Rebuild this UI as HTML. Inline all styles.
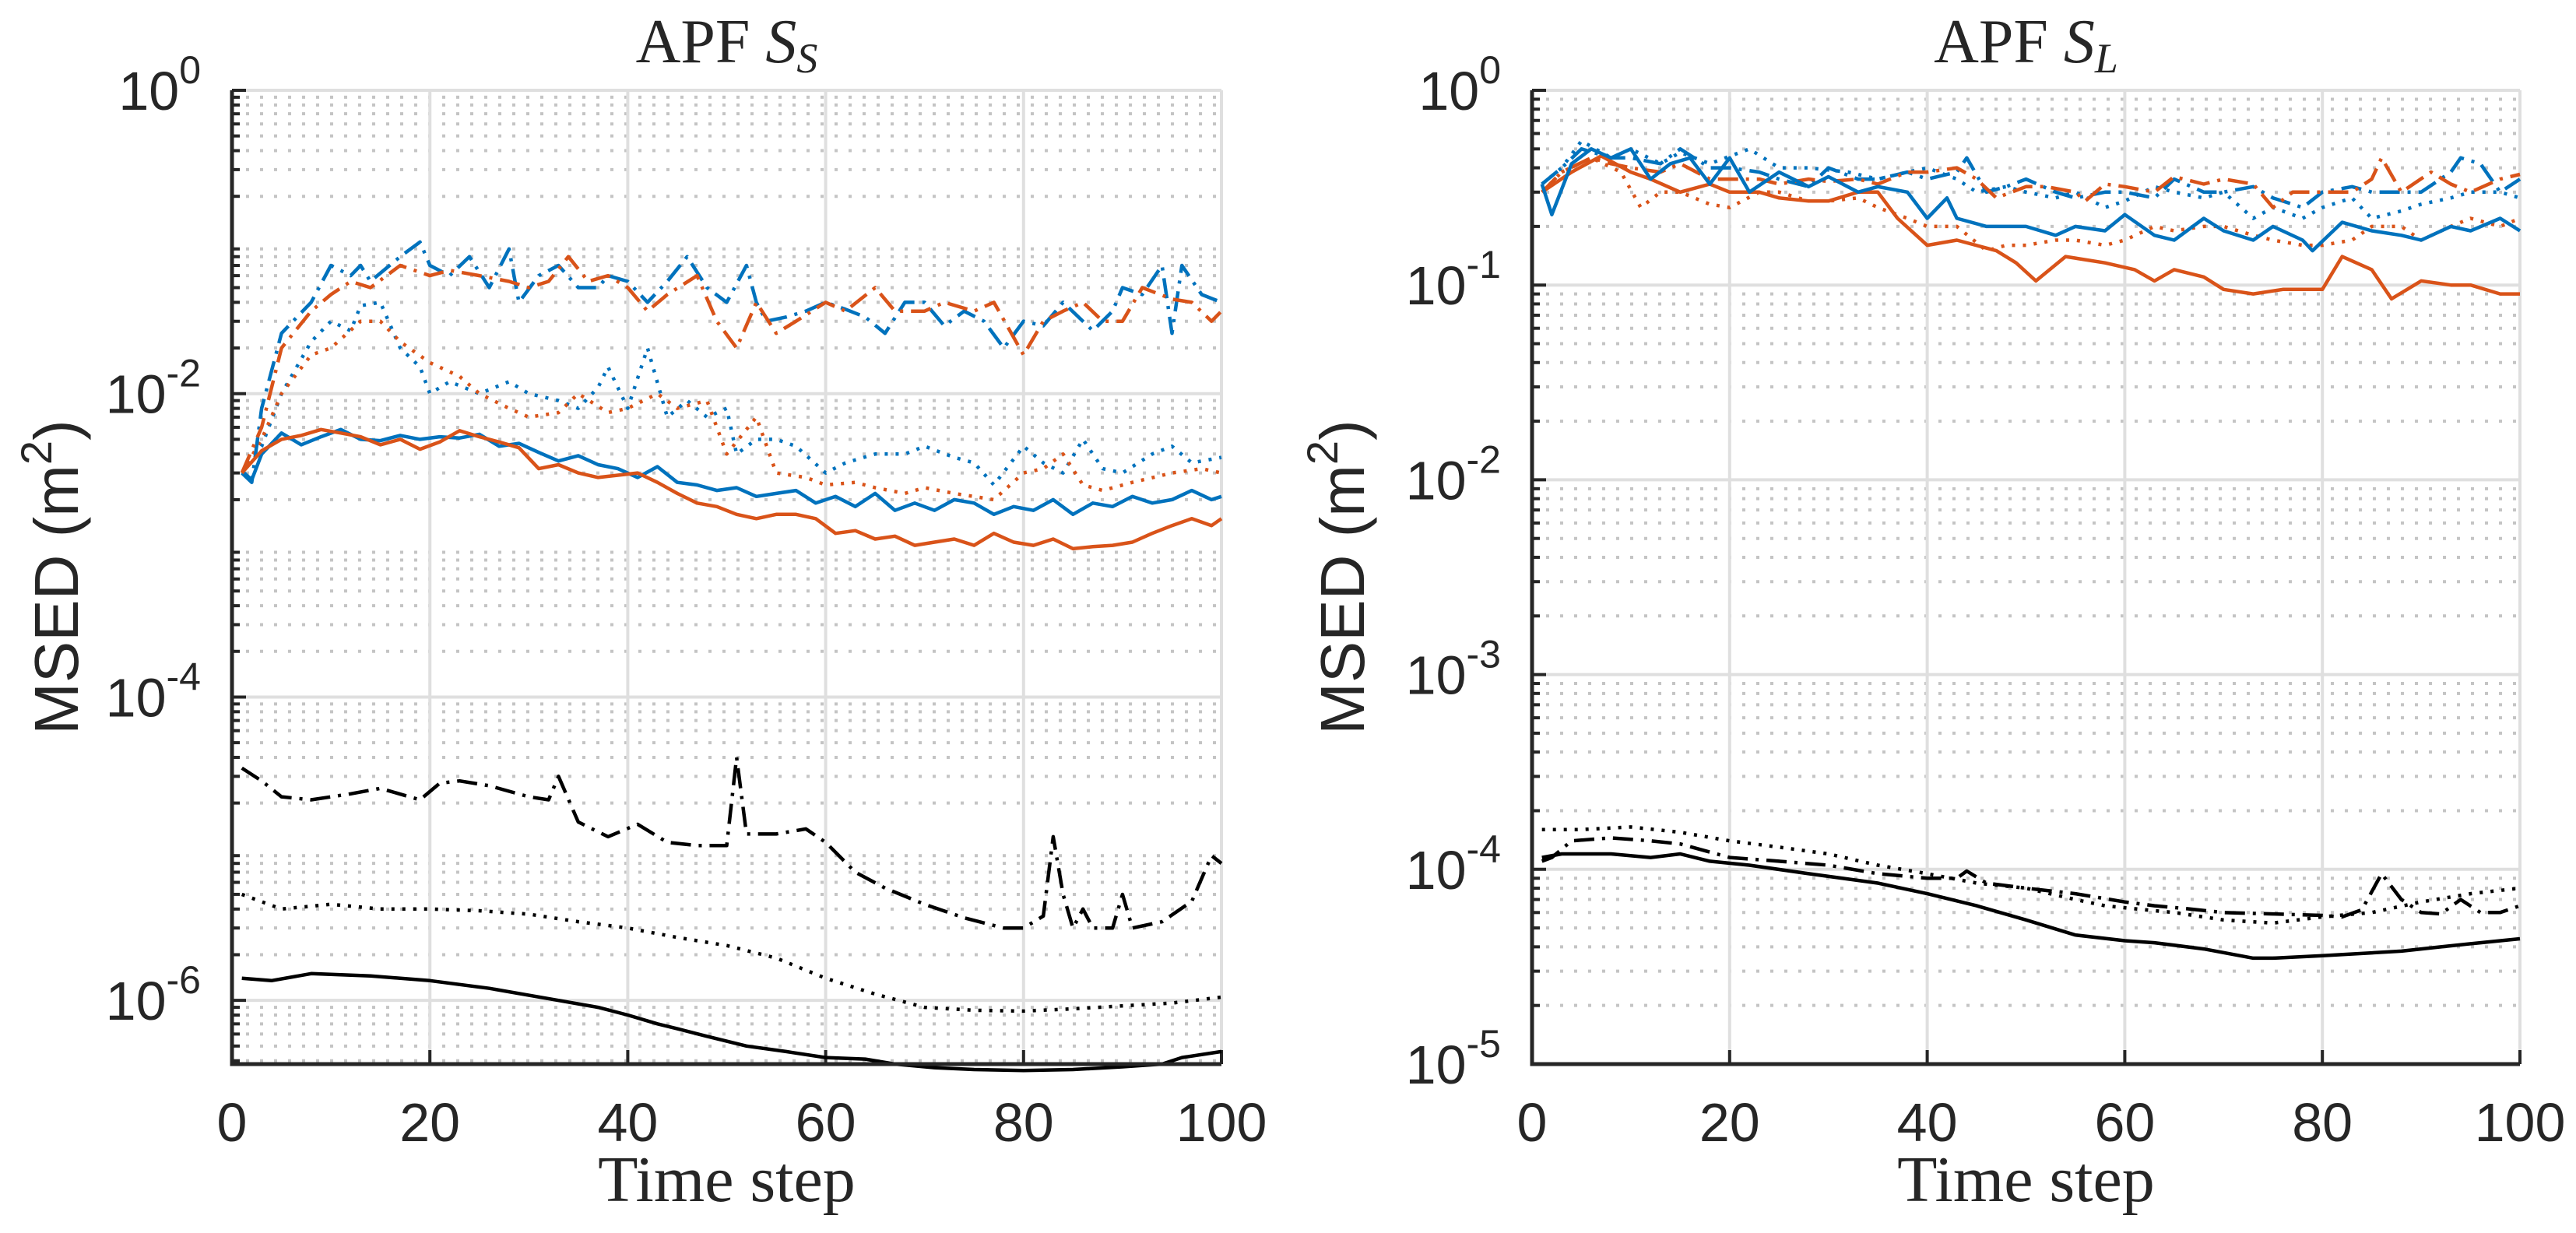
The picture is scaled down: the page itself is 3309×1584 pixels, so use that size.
<!DOCTYPE html>
<html><head><meta charset="utf-8"><style>
html,body{margin:0;padding:0;background:#fff}
svg{display:block}
text{fill:#262626}
</style></head><body>
<svg id="chart" width="3309" height="1584" viewBox="0 0 3309 1584" xmlns="http://www.w3.org/2000/svg"></svg>
<script>
// ---- Left panel data (APF S_S) ----
const L_bs_t=[1,2,3,5,7,9,11,13,15,17,19,21,23,25,27,29,31,33,35,37,39,41,43,45,47,49,51,53,55,57,59,61,63,65,67,69,71,73,75,77,79,81,83,85,87,89,91,93,95,97,99,100];
const L_bs_v=[3.1e-3,2.7e-3,4e-3,5.5e-3,4.6e-3,5.2e-3,5.8e-3,5e-3,4.9e-3,5.3e-3,5e-3,5.2e-3,5.1e-3,5.4e-3,4.5e-3,4.7e-3,4.1e-3,3.6e-3,3.9e-3,3.4e-3,3.2e-3,2.8e-3,3.3e-3,2.6e-3,2.5e-3,2.3e-3,2.4e-3,2.1e-3,2.2e-3,2.3e-3,1.9e-3,2.1e-3,1.8e-3,2.2e-3,1.7e-3,1.9e-3,1.7e-3,2e-3,1.9e-3,1.6e-3,1.8e-3,1.7e-3,2e-3,1.6e-3,1.9e-3,1.8e-3,2.1e-3,1.9e-3,2e-3,2.3e-3,2e-3,2.1e-3];
const L_os_t=[1,3,5,7,9,11,13,15,17,19,21,23,25,27,29,31,33,35,37,39,41,43,45,47,49,51,53,55,57,59,61,63,65,67,69,71,73,75,77,79,81,83,85,87,89,91,93,95,97,99,100];
const L_os_v=[3e-3,4.2e-3,5e-3,5.3e-3,5.8e-3,5.5e-3,5.2e-3,4.6e-3,5e-3,4.3e-3,4.8e-3,5.7e-3,5.2e-3,4.8e-3,4.4e-3,3.2e-3,3.4e-3,3e-3,2.8e-3,2.9e-3,3e-3,2.6e-3,2.2e-3,1.9e-3,1.8e-3,1.6e-3,1.5e-3,1.6e-3,1.6e-3,1.5e-3,1.2e-3,1.25e-3,1.1e-3,1.15e-3,1e-3,1.05e-3,1.1e-3,1e-3,1.2e-3,1.05e-3,1e-3,1.1e-3,9.5e-4,9.8e-4,1e-3,1.05e-3,1.2e-3,1.35e-3,1.5e-3,1.35e-3,1.5e-3];
const L_bd_t=[1,3,5,8,10,12,13,15,17,19,20,22,25,28,30,33,35,37,38,40,42,44,46,48,50,51,53,55,57,60,62,65,68,70,73,75,77,80,82,84,86,88,90,93,95,97,100];
const L_bd_v=[3e-3,4.5e-3,1e-2,2.2e-2,3e-2,2.6e-2,3.8e-2,4e-2,2e-2,1.5e-2,1e-2,1.2e-2,1e-2,1.2e-2,1e-2,9e-3,8e-3,1.1e-2,1.5e-2,8e-3,2e-2,7e-3,9e-3,7e-3,8e-3,4e-3,5e-3,5e-3,4.5e-3,3e-3,3.5e-3,4e-3,4e-3,4.5e-3,3.8e-3,3.5e-3,2.5e-3,4.5e-3,3.5e-3,3e-3,5e-3,3.2e-3,3e-3,4e-3,4.5e-3,3.5e-3,3.8e-3];
const L_od_t=[1,3,5,8,10,13,15,17,20,23,25,28,30,33,35,38,40,43,45,48,50,53,55,58,60,63,65,68,70,73,77,80,82,84,86,88,91,95,98,100];
const L_od_v=[3e-3,5e-3,1e-2,1.8e-2,2e-2,3e-2,3e-2,2.2e-2,1.6e-2,1.3e-2,1e-2,8e-3,7e-3,7.5e-3,1e-2,7.5e-3,8e-3,1e-2,8e-3,9e-3,4e-3,7e-3,3e-3,2.8e-3,2.5e-3,2.6e-3,2.4e-3,2.2e-3,2.4e-3,2.2e-3,2e-3,3e-3,3.2e-3,4e-3,2.5e-3,2.3e-3,2.6e-3,3e-3,3.2e-3,3e-3];
const L_bc_t=[1,2,3,5,8,10,12,13,14,17,19,20,22,24,26,28,29,31,33,35,37,38,40,42,44,46,48,50,52,53,54,56,58,60,62,64,66,68,70,72,74,76,78,80,82,84,86,87,89,90,92,94,95,96,98,100];
const L_bc_v=[3e-3,2.6e-3,8e-3,2.5e-2,4e-2,7e-2,6e-2,7e-2,5.5e-2,8e-2,1e-1,7e-2,6e-2,8e-2,5e-2,9e-2,4e-2,6e-2,7e-2,5e-2,5e-2,6e-2,5.5e-2,4e-2,5.5e-2,8e-2,5e-2,4e-2,7e-2,4e-2,3e-2,3.2e-2,3.5e-2,4e-2,3.6e-2,3.2e-2,2.5e-2,4e-2,4e-2,2.8e-2,3.5e-2,3e-2,2e-2,3e-2,2.8e-2,4e-2,3e-2,2.6e-2,3.5e-2,5e-2,4.5e-2,7e-2,2.5e-2,7e-2,4.5e-2,4e-2];
const L_oc_t=[1,3,5,8,10,12,14,17,20,22,25,28,30,32,34,36,38,40,42,44,47,49,51,53,55,57,60,62,65,67,70,72,75,77,80,82,84,86,88,90,92,95,97,99,100];
const L_oc_v=[3e-3,6e-3,2e-2,3.5e-2,4.5e-2,5.5e-2,5e-2,7e-2,6e-2,6.5e-2,6e-2,5.5e-2,5e-2,5.5e-2,8e-2,5.5e-2,6e-2,5e-2,3.5e-2,4.5e-2,6e-2,3e-2,2e-2,4e-2,2.5e-2,3e-2,4e-2,3.5e-2,5e-2,3.5e-2,3.5e-2,4e-2,3.5e-2,4e-2,1.8e-2,3e-2,3.5e-2,4e-2,3e-2,3e-2,5e-2,4.2e-2,4e-2,3e-2,3.5e-2];
const L_ks_t=[1,4,8,14,20,26,33,37,40,43,45,48,52,56,60,64,67,71,75,80,85,90,94,96,100];
const L_ks_v=[1.4e-6,1.35e-6,1.5e-6,1.45e-6,1.35e-6,1.2e-6,1e-6,9e-7,8e-7,7e-7,6.5e-7,5.8e-7,5e-7,4.6e-7,4.2e-7,4.1e-7,3.8e-7,3.6e-7,3.5e-7,3.45e-7,3.5e-7,3.65e-7,3.8e-7,4.2e-7,4.6e-7];
const L_kd_t=[1,5,10,15,20,25,30,35,40,45,50,55,60,65,70,75,80,85,90,95,100];
const L_kd_v=[5e-6,4e-6,4.3e-6,4e-6,4e-6,3.9e-6,3.7e-6,3.3e-6,3e-6,2.6e-6,2.3e-6,1.9e-6,1.4e-6,1.1e-6,9e-7,8.6e-7,8.5e-7,8.8e-7,9.2e-7,9.6e-7,1.05e-6];
const L_kc_t=[1,3,5,8,12,15,19,21,23,26,30,32,33,35,38,41,44,47,50,51,52,55,58,60,63,66,70,74,78,80,82,83,84,85,86,87,88,89,90,91,94,97,99,100];
const L_kc_v=[3.4e-5,2.8e-5,2.2e-5,2.1e-5,2.3e-5,2.5e-5,2.1e-5,2.7e-5,2.8e-5,2.6e-5,2.2e-5,2.1e-5,3e-5,1.5e-5,1.2e-5,1.45e-5,1.1e-5,1.05e-5,1.05e-5,4e-5,1.25e-5,1.25e-5,1.35e-5,1.1e-5,7e-6,5.5e-6,4.3e-6,3.5e-6,3e-6,3e-6,3.6e-6,1.2e-5,5e-6,3e-6,4e-6,3e-6,3e-6,3e-6,5e-6,3e-6,3.3e-6,4.5e-6,9e-6,8e-6];
// ---- Right panel data (APF S_L) ----
const R_bs_t=[1,2,4,6,8,10,12,14,16,18,20,22,25,28,30,33,35,38,40,42,43,46,50,53,55,58,60,63,65,68,70,73,75,78,79,82,85,88,90,93,95,98,100];
const R_bs_v=[0.33,0.23,0.42,0.5,0.45,0.5,0.35,0.42,0.45,0.33,0.45,0.3,0.38,0.32,0.36,0.3,0.32,0.3,0.22,0.28,0.22,0.2,0.2,0.18,0.2,0.19,0.23,0.18,0.17,0.22,0.19,0.17,0.2,0.17,0.15,0.21,0.19,0.18,0.17,0.2,0.19,0.22,0.19];
const R_os_t=[1,4,7,10,12,15,18,20,23,25,28,30,33,35,37,40,43,47,49,51,54,58,61,63,65,68,70,73,76,80,82,85,87,90,93,95,98,100];
const R_os_v=[0.3,0.38,0.46,0.38,0.35,0.3,0.33,0.3,0.3,0.28,0.27,0.27,0.3,0.3,0.22,0.16,0.17,0.15,0.13,0.105,0.14,0.13,0.12,0.105,0.12,0.11,0.095,0.09,0.095,0.095,0.14,0.12,0.085,0.105,0.1,0.1,0.09,0.09];
const R_bd_t=[1,3,5,8,10,13,15,18,22,25,28,32,35,38,40,43,45,48,50,53,55,58,60,63,65,68,70,73,75,78,80,83,85,88,90,93,95,98,100];
const R_bd_v=[0.33,0.4,0.55,0.45,0.5,0.42,0.48,0.42,0.5,0.4,0.4,0.38,0.35,0.38,0.4,0.35,0.3,0.32,0.3,0.28,0.3,0.25,0.27,0.32,0.3,0.28,0.3,0.22,0.25,0.22,0.25,0.28,0.22,0.24,0.26,0.28,0.3,0.3,0.28];
const R_od_t=[1,3,6,9,11,13,15,18,20,23,25,28,30,33,35,38,40,43,46,48,50,53,55,58,60,63,65,68,70,73,75,78,80,83,85,88,90,93,95,98,100];
const R_od_v=[0.3,0.38,0.45,0.38,0.25,0.3,0.3,0.26,0.25,0.3,0.3,0.27,0.27,0.28,0.25,0.22,0.2,0.2,0.15,0.16,0.16,0.17,0.17,0.16,0.17,0.2,0.19,0.2,0.2,0.18,0.17,0.16,0.16,0.17,0.2,0.2,0.17,0.2,0.22,0.2,0.22];
const R_bc_t=[1,3,5,8,10,13,15,18,20,23,25,28,30,33,35,38,40,43,44,46,48,50,53,55,58,60,63,65,68,70,73,75,78,80,83,85,88,90,93,94,96,98,100];
const R_bc_v=[0.33,0.4,0.5,0.45,0.45,0.42,0.5,0.4,0.4,0.38,0.35,0.32,0.4,0.35,0.35,0.38,0.35,0.38,0.45,0.3,0.32,0.35,0.3,0.28,0.3,0.3,0.28,0.35,0.3,0.3,0.32,0.28,0.25,0.3,0.32,0.3,0.3,0.3,0.38,0.45,0.42,0.3,0.35];
const R_oc_t=[1,3,6,8,10,13,15,18,20,23,25,28,30,33,35,38,40,43,45,47,50,52,55,56,58,60,63,65,68,70,73,75,77,80,83,85,86,88,91,93,95,98,100];
const R_oc_v=[0.3,0.38,0.45,0.42,0.4,0.38,0.42,0.35,0.35,0.35,0.33,0.35,0.34,0.35,0.33,0.38,0.38,0.4,0.35,0.28,0.32,0.32,0.3,0.27,0.33,0.32,0.3,0.36,0.33,0.35,0.33,0.25,0.3,0.3,0.3,0.35,0.45,0.3,0.38,0.33,0.3,0.35,0.37];
const R_ks_t=[1,3,8,12,15,18,22,28,35,40,45,50,55,60,63,68,73,75,80,88,92,96,100];
const R_ks_v=[1.15e-4,1.2e-4,1.2e-4,1.15e-4,1.2e-4,1.1e-4,1.05e-4,9.5e-5,8.5e-5,7.5e-5,6.5e-5,5.5e-5,4.6e-5,4.3e-5,4.2e-5,3.9e-5,3.5e-5,3.5e-5,3.6e-5,3.8e-5,4e-5,4.2e-5,4.4e-5];
const R_kd_t=[1,5,10,15,20,25,30,35,40,45,50,55,58,62,65,70,75,80,85,90,95,100];
const R_kd_v=[1.6e-4,1.6e-4,1.65e-4,1.55e-4,1.4e-4,1.3e-4,1.2e-4,1.05e-4,9.5e-5,8.5e-5,8e-5,7e-5,6.5e-5,6.2e-5,6e-5,5.5e-5,5.3e-5,5.7e-5,6e-5,6.8e-5,7.5e-5,8e-5];
const R_kc_t=[1,2,4,8,12,15,20,25,30,35,40,43,44,46,50,55,60,63,66,70,75,80,82,84,86,88,90,92,94,96,98,100];
const R_kc_v=[1.1e-4,1.15e-4,1.4e-4,1.45e-4,1.4e-4,1.35e-4,1.15e-4,1.1e-4,1.05e-4,9.5e-5,9e-5,9e-5,9.8e-5,8.5e-5,8e-5,7.5e-5,6.8e-5,6.5e-5,6.3e-5,6e-5,5.9e-5,5.8e-5,5.7e-5,6.2e-5,9.5e-5,7e-5,6e-5,5.9e-5,7e-5,6e-5,6e-5,6.5e-5];
const xTicks=[0,20,40,60,80,100];
const L_yExp=[0,-2,-4,-6];
const R_yExp=[0,-1,-2,-3,-4,-5];

const NS="http://www.w3.org/2000/svg";
const svg=document.getElementById('chart');
function mk(tag,attrs,parent){const e=document.createElementNS(NS,tag);for(const k in attrs)e.setAttribute(k,attrs[k]);(parent||svg).appendChild(e);return e;}
const BLUE="#0072BD",ORANGE="#D95319",BLACK="#000000";
const DASH={solid:"",dot:"4,10",dashdot:"26,10,4,10"};

function panel(cfg){
  const g=mk('g',{});
  
  
  const {x0,x1,y0,y1,lmin,lmax}=cfg;
  const X=t=>x0+(t-0)/(100-0)*(x1-x0);
  const Y=v=>y1-(Math.log10(v)-lmin)/(lmax-lmin)*(y1-y0);
  const grid=mk('g',{},g);
  
  
  for(let e=Math.floor(lmin);e<lmax;e++){for(let m=2;m<=9;m++){const v=m*Math.pow(10,e);const lv=Math.log10(v);if(lv<=lmin||lv>=lmax)continue;
    const ln=mk('line',{x1:x0,x2:x1,y1:Y(v),y2:Y(v),stroke:"#c4c4c4","stroke-width":4,"stroke-dasharray":"4,14"},grid);
    
    
    const tk=mk('line',{x1:x0,x2:x0+10,y1:Y(v),y2:Y(v),stroke:"#262626","stroke-width":4},g);
    
    
  }}
  cfg.yExp.forEach(e=>{const y=Y(Math.pow(10,e));
    const ln=mk('line',{x1:x0,x2:x1,y1:y,y2:y,stroke:"#dfdfdf","stroke-width":4},grid);
    
    
    const tk=mk('line',{x1:x0,x2:x0+18,y1:y,y2:y,stroke:"#262626","stroke-width":4},g);
    
    
    const tx=mk('text',{x:x0-40,y:y+25,"text-anchor":"end","font-family":"Liberation Sans, sans-serif","font-size":70},g);
    
    
    tx.appendChild(document.createTextNode('10'));
    const sp=mk('tspan',{dy:-34,"font-size":50},tx);sp.textContent=String(e);
  });
  xTicks.forEach(t=>{const x=X(t);
    if(t>0){const ln=mk('line',{x1:x,x2:x,y1:y0,y2:y1,stroke:"#dfdfdf","stroke-width":4},grid);
      
      }
    const tk=mk('line',{x1:x,x2:x,y1:y1,y2:y1-18,stroke:"#262626","stroke-width":4},g);
    
    
    const tx=mk('text',{x:x,y:1466,"text-anchor":"middle","font-family":"Liberation Sans, sans-serif","font-size":70},g);
    
    
    tx.textContent=t;
  });
  const lines=mk('g',{},g);
  
  
  cfg.series.forEach(s=>{
    const d=s.t.map((t,i)=>(i?'L':'M')+X(t).toFixed(1)+','+Y(s.v[i]).toFixed(1)).join('');
    const p=mk('path',{d:d,fill:"none",stroke:s.c,"stroke-width":4.5,"stroke-linejoin":"round","stroke-dasharray":DASH[s.s]},lines);
    
    
  });
  const ax=mk('path',{d:`M${x0},${y0}L${x0},${y1}L${x1},${y1}`,fill:"none",stroke:"#262626","stroke-width":5},g);
  
  
  const ti=mk('text',{x:(x0+x1)/2,y:80,"text-anchor":"middle","font-family":"Liberation Serif, serif","font-size":80},g);
  
  
  ti.appendChild(document.createTextNode('APF '));
  const s1=mk('tspan',{"font-style":"italic"},ti);s1.textContent='S';
  const s2=mk('tspan',{"font-style":"italic","font-size":54,dy:13},ti);s2.textContent=cfg.sub;
  const xl=mk('text',{x:(x0+x1)/2,y:1543,"text-anchor":"middle","font-family":"Liberation Serif, serif","font-size":84},g);
  
  
  xl.textContent='Time step';
  const yl=mk('text',{x:0,y:0,"text-anchor":"middle","font-family":"Liberation Sans, sans-serif","font-size":80,transform:`translate(${cfg.ylx},${(y0+y1)/2}) rotate(-90)`},g);
  
  
  yl.appendChild(document.createTextNode('MSED (m'));
  const ys=mk('tspan',{dy:-34,"font-size":56},yl);ys.textContent='2';
  const yc=mk('tspan',{dy:34},yl);yc.textContent=')';
}
panel({name:'panel-apf-ss',x0:298,x1:1569,y0:116,y1:1367,lmin:-6.42,lmax:0,yExp:L_yExp,sub:'S',ylx:100,series:[
 {n:'black-solid-line',t:L_ks_t,v:L_ks_v,c:BLACK,s:'solid'},
 {n:'black-dotted-line',t:L_kd_t,v:L_kd_v,c:BLACK,s:'dot'},
 {n:'black-dashdot-line',t:L_kc_t,v:L_kc_v,c:BLACK,s:'dashdot'},
 {n:'blue-dotted-line',t:L_bd_t,v:L_bd_v,c:BLUE,s:'dot'},
 {n:'orange-dotted-line',t:L_od_t,v:L_od_v,c:ORANGE,s:'dot'},
 {n:'blue-dashdot-line',t:L_bc_t,v:L_bc_v,c:BLUE,s:'dashdot'},
 {n:'orange-dashdot-line',t:L_oc_t,v:L_oc_v,c:ORANGE,s:'dashdot'},
 {n:'blue-solid-line',t:L_bs_t,v:L_bs_v,c:BLUE,s:'solid'},
 {n:'orange-solid-line',t:L_os_t,v:L_os_v,c:ORANGE,s:'solid'}]});
panel({name:'panel-apf-sl',x0:1968,x1:3237,y0:116,y1:1367,lmin:-5,lmax:0,yExp:R_yExp,sub:'L',ylx:1752,series:[
 {n:'black-solid-line',t:R_ks_t,v:R_ks_v,c:BLACK,s:'solid'},
 {n:'black-dotted-line',t:R_kd_t,v:R_kd_v,c:BLACK,s:'dot'},
 {n:'black-dashdot-line',t:R_kc_t,v:R_kc_v,c:BLACK,s:'dashdot'},
 {n:'blue-dotted-line',t:R_bd_t,v:R_bd_v,c:BLUE,s:'dot'},
 {n:'orange-dotted-line',t:R_od_t,v:R_od_v,c:ORANGE,s:'dot'},
 {n:'blue-dashdot-line',t:R_bc_t,v:R_bc_v,c:BLUE,s:'dashdot'},
 {n:'orange-dashdot-line',t:R_oc_t,v:R_oc_v,c:ORANGE,s:'dashdot'},
 {n:'orange-solid-line',t:R_os_t,v:R_os_v,c:ORANGE,s:'solid'},
 {n:'blue-solid-line',t:R_bs_t,v:R_bs_v,c:BLUE,s:'solid'}]});
</script>
</body></html>
